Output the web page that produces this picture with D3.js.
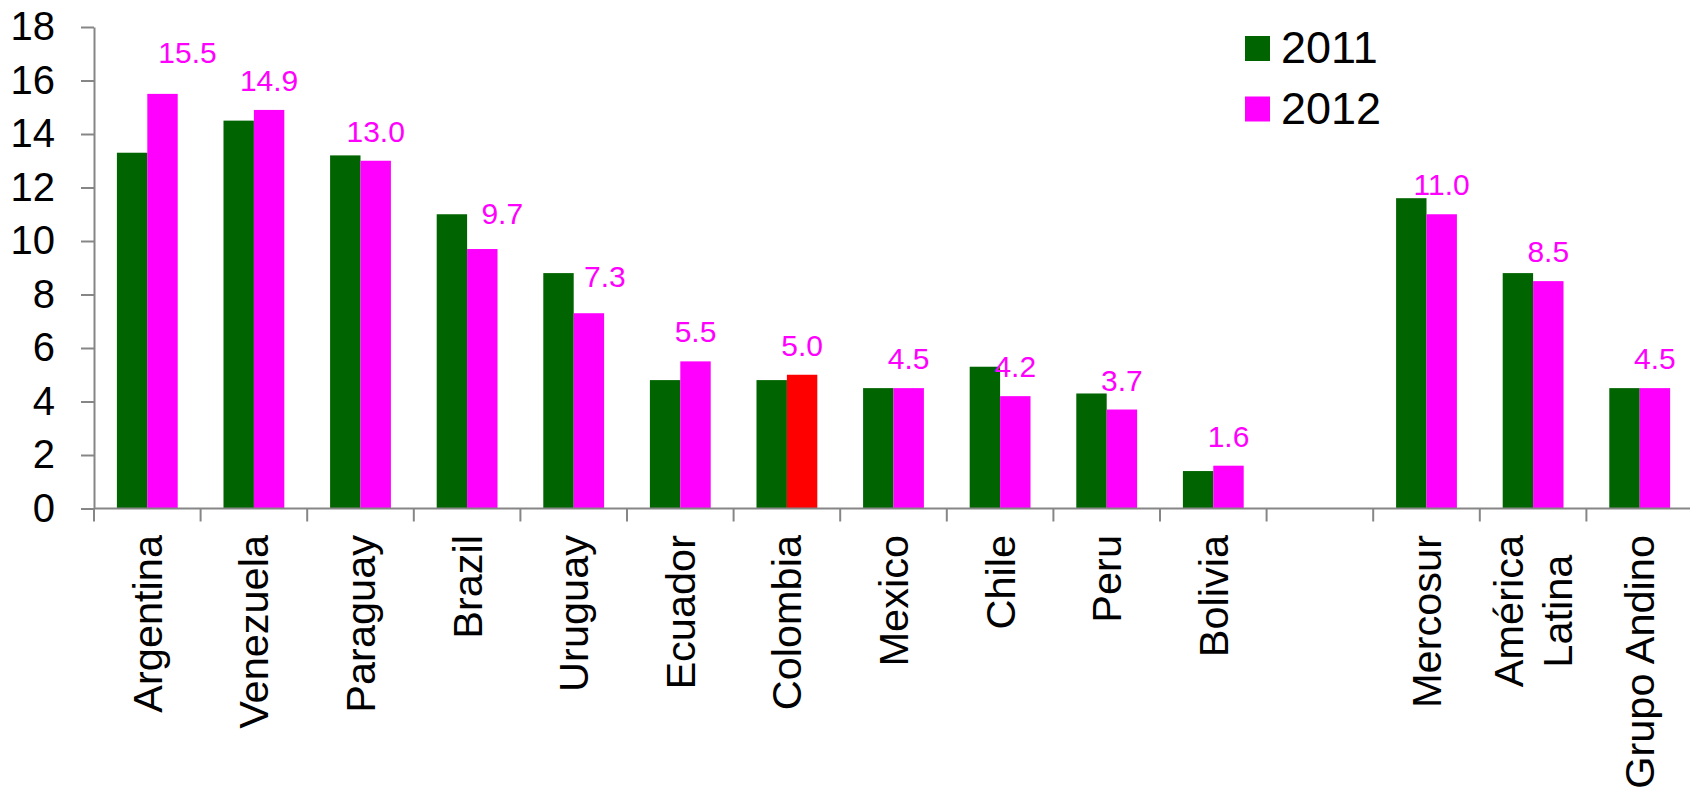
<!DOCTYPE html>
<html>
<head>
<meta charset="utf-8">
<script src="https://cdn.jsdelivr.net/npm/d3@7"></script>
<style>
  html, body { margin: 0; padding: 0; background: #fff; }
  svg { display: block; font-family: Arial, "Liberation Sans", sans-serif; }
</style>
</head>
<body>
<svg id="chart"></svg>
<script>
// data
const categories = ['Argentina', 'Venezuela', 'Paraguay', 'Brazil', 'Uruguay', 'Ecuador',
  'Colombia', 'Mexico', 'Chile', 'Peru', 'Bolivia', '', 'Mercosur', 'América\nLatina', 'Grupo Andino'];
const values2011 = [13.3, 14.5, 13.2, 11.0, 8.8, 4.8, 4.8, 4.5, 5.3, 4.3, 1.4, null, 11.6, 8.8, 4.5];
const values2012 = [15.5, 14.9, 13.0, 9.7, 7.3, 5.5, 5.0, 4.5, 4.2, 3.7, 1.6, null, 11.0, 8.5, 4.5];
const seriesNames = ['2011', '2012'];
const yTicks = [0, 2, 4, 6, 8, 10, 12, 14, 16, 18];

const width = 1690;
const height = 798;
const green = '#006400';
const pink = '#ff00ff';
const highlight = '#ff0000'; // Colombia 2012
const axisGrey = '#868686';

const svg = d3.select('#chart').attr('width', width).attr('height', height);

// scales
const x = d3.scaleBand().domain(d3.range(categories.length)).range([94, 94 + 15 * 106.6]);
const xSub = d3.scaleBand().domain(seriesNames).range([0, x.bandwidth()]).paddingOuter(0.753);
const y = d3.scaleLinear().domain([0, 18]).range([508.5, 27]);

// bars
const rows = categories.map((c, i) => ({ name: c, i, v: [values2011[i], values2012[i]] }));
const bars = svg.append('g');
rows.forEach((r) => {
  seriesNames.forEach((s, k) => {
    if (r.v[k] == null) return;
    let fill = k === 0 ? green : pink;
    if (r.name === 'Colombia' && k === 1) fill = highlight;
    bars.append('rect')
      .attr('x', x(r.i) + xSub(s))
      .attr('y', y(r.v[k]))
      .attr('width', xSub.bandwidth())
      .attr('height', y(0) - y(r.v[k]))
      .style('fill', fill);
  });
});

// 2012 value labels (a few were dragged aside in the original)
const nudge = { Argentina: [25, -12], Brazil: [20, -6], Uruguay: [16, -7] };
svg.append('g')
  .selectAll('text')
  .data(rows.filter((r) => r.v[1] != null))
  .enter()
  .append('text')
  .attr('x', (r) => x(r.i) + xSub('2012') + xSub.bandwidth() / 2 + (nudge[r.name] ? nudge[r.name][0] : 0))
  .attr('y', (r) => y(r.v[1]) - 19 + (nudge[r.name] ? nudge[r.name][1] : 0))
  .attr('text-anchor', 'middle')
  .text((r) => r.v[1].toFixed(1))
  .style('fill', pink)
  .style('font-size', '30px');

// y axis
const yAxis = svg.append('g')
  .attr('transform', 'translate(94,0)')
  .call(d3.axisLeft(y).tickValues(yTicks).tickSize(13).tickSizeOuter(0).tickPadding(26));
yAxis.select('.domain').attr('stroke', axisGrey).attr('stroke-width', 2);
yAxis.selectAll('.tick line').attr('stroke', axisGrey).attr('stroke-width', 2);
yAxis.selectAll('.tick text')
  .style('font-size', '40px')
  .style('font-family', 'Arial, "Liberation Sans", sans-serif')
  .style('fill', '#000');

// x axis line and boundary ticks
const xAxis = svg.append('g');
xAxis.append('line')
  .attr('x1', 94).attr('x2', width)
  .attr('y1', y(0)).attr('y2', y(0))
  .attr('stroke', axisGrey).attr('stroke-width', 2);
xAxis.selectAll('line.tk')
  .data(d3.range(categories.length))
  .enter()
  .append('line')
  .attr('class', 'tk')
  .attr('x1', (i) => x(i)).attr('x2', (i) => x(i))
  .attr('y1', y(0)).attr('y2', y(0) + 13)
  .attr('stroke', axisGrey).attr('stroke-width', 2);

// category labels, rotated; lines of a label centred within its block, blocks top-aligned
const labelTop = 535;
const lineGap = 48.3;
rows.forEach((r) => {
  if (!r.name) return;
  const lines = r.name.split('\n');
  const cx = x(r.i) + x.bandwidth() / 2;
  const g = svg.append('g');
  const texts = lines.map((ln, j) => g.append('text')
    .text(ln)
    .style('font-size', '41.5px')
    .style('fill', '#000')
    .attr('text-anchor', 'middle')
    .attr('dy', '0.35em')
    .attr('data-x', cx + (j - (lines.length - 1) / 2) * lineGap));
  const maxLen = d3.max(texts, (t) => t.node().getComputedTextLength());
  const mid = labelTop + maxLen / 2;
  texts.forEach((t) => {
    const tx = +t.attr('data-x');
    t.attr('transform', `translate(${tx},${mid}) rotate(-90)`);
  });
});

// legend
const legend = svg.append('g');
seriesNames.forEach((s, k) => {
  legend.append('rect')
    .attr('x', 1245).attr('y', 36 + k * 60.5)
    .attr('width', 25).attr('height', 25)
    .style('fill', k === 0 ? green : pink);
  legend.append('text')
    .attr('x', 1281).attr('y', 63.3 + k * 61)
    .text(s)
    .style('font-size', '45px')
    .style('fill', '#000');
});
</script>
</body>
</html>
